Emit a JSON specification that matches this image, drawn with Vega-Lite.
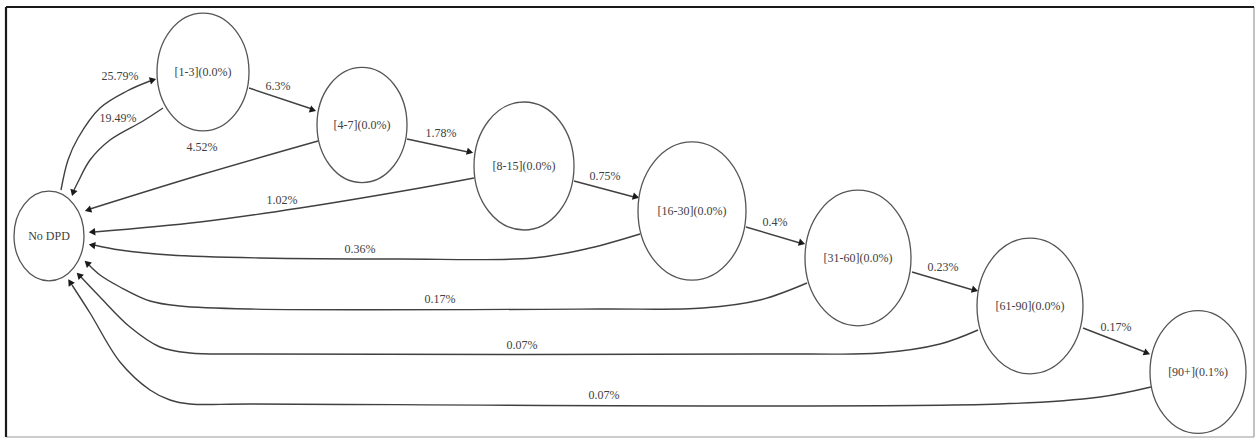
{
  "$schema": "https://vega.github.io/schema/vega-lite/v6.json",
  "width": 1255,
  "height": 439,
  "padding": 0,
  "autosize": {"type": "none"},
  "background": "white",
  "view": {"stroke": null},
  "config": {"axis": {"disable": true}},
  "datasets": {
    "nodes": [
      {"label": "No DPD", "x": 49, "y": 236, "rx": 35},
      {"label": "[1-3](0.0%)", "x": 203, "y": 72, "rx": 46},
      {"label": "[4-7](0.0%)", "x": 362, "y": 125, "rx": 45},
      {"label": "[8-15](0.0%)", "x": 524, "y": 166, "rx": 50},
      {"label": "[16-30](0.0%)", "x": 692, "y": 211, "rx": 54},
      {"label": "[31-60](0.0%)", "x": 858, "y": 258, "rx": 53},
      {"label": "[61-90](0.0%)", "x": 1030, "y": 306, "rx": 53},
      {"label": "[90+](0.1%)", "x": 1198, "y": 372, "rx": 48}
    ],
    "edges": [
      {"edge": "e1", "i": 0, "x": 61, "y": 190}, {"edge": "e1", "i": 1, "x": 68, "y": 160}, {"edge": "e1", "i": 2, "x": 78, "y": 138}, {"edge": "e1", "i": 3, "x": 100, "y": 108}, {"edge": "e1", "i": 4, "x": 127, "y": 91}, {"edge": "e1", "i": 5, "x": 150, "y": 81},
      {"edge": "e2", "i": 0, "x": 163, "y": 108}, {"edge": "e2", "i": 1, "x": 143, "y": 121}, {"edge": "e2", "i": 2, "x": 110, "y": 140}, {"edge": "e2", "i": 3, "x": 90, "y": 160}, {"edge": "e2", "i": 4, "x": 78, "y": 182}, {"edge": "e2", "i": 5, "x": 74, "y": 190},
      {"edge": "e3", "i": 0, "x": 249, "y": 88}, {"edge": "e3", "i": 1, "x": 312, "y": 109},
      {"edge": "e4", "i": 0, "x": 318, "y": 141}, {"edge": "e4", "i": 1, "x": 200, "y": 175}, {"edge": "e4", "i": 2, "x": 90, "y": 209},
      {"edge": "e5", "i": 0, "x": 407, "y": 139}, {"edge": "e5", "i": 1, "x": 468, "y": 152},
      {"edge": "e6", "i": 0, "x": 474, "y": 178}, {"edge": "e6", "i": 1, "x": 420, "y": 188}, {"edge": "e6", "i": 2, "x": 300, "y": 208}, {"edge": "e6", "i": 3, "x": 200, "y": 222}, {"edge": "e6", "i": 4, "x": 94, "y": 232},
      {"edge": "e7", "i": 0, "x": 574, "y": 181}, {"edge": "e7", "i": 1, "x": 634, "y": 197},
      {"edge": "e8", "i": 0, "x": 640, "y": 234}, {"edge": "e8", "i": 1, "x": 590, "y": 248}, {"edge": "e8", "i": 2, "x": 533, "y": 258}, {"edge": "e8", "i": 3, "x": 400, "y": 259}, {"edge": "e8", "i": 4, "x": 260, "y": 258}, {"edge": "e8", "i": 5, "x": 170, "y": 255}, {"edge": "e8", "i": 6, "x": 120, "y": 250}, {"edge": "e8", "i": 7, "x": 94, "y": 245},
      {"edge": "e9", "i": 0, "x": 746, "y": 227}, {"edge": "e9", "i": 1, "x": 800, "y": 243},
      {"edge": "e10", "i": 0, "x": 807, "y": 283}, {"edge": "e10", "i": 1, "x": 760, "y": 300}, {"edge": "e10", "i": 2, "x": 703, "y": 308}, {"edge": "e10", "i": 3, "x": 600, "y": 309}, {"edge": "e10", "i": 4, "x": 250, "y": 309}, {"edge": "e10", "i": 5, "x": 180, "y": 306}, {"edge": "e10", "i": 6, "x": 150, "y": 301}, {"edge": "e10", "i": 7, "x": 120, "y": 287}, {"edge": "e10", "i": 8, "x": 100, "y": 275}, {"edge": "e10", "i": 9, "x": 89, "y": 265},
      {"edge": "e11", "i": 0, "x": 912, "y": 272}, {"edge": "e11", "i": 1, "x": 973, "y": 290},
      {"edge": "e12", "i": 0, "x": 978, "y": 330}, {"edge": "e12", "i": 1, "x": 940, "y": 344}, {"edge": "e12", "i": 2, "x": 880, "y": 353}, {"edge": "e12", "i": 3, "x": 800, "y": 354}, {"edge": "e12", "i": 4, "x": 250, "y": 354}, {"edge": "e12", "i": 5, "x": 190, "y": 353}, {"edge": "e12", "i": 6, "x": 160, "y": 347}, {"edge": "e12", "i": 7, "x": 130, "y": 327}, {"edge": "e12", "i": 8, "x": 100, "y": 297}, {"edge": "e12", "i": 9, "x": 81, "y": 277},
      {"edge": "e13", "i": 0, "x": 1083, "y": 328}, {"edge": "e13", "i": 1, "x": 1145, "y": 352},
      {"edge": "e14", "i": 0, "x": 1151, "y": 387}, {"edge": "e14", "i": 1, "x": 1100, "y": 397}, {"edge": "e14", "i": 2, "x": 1000, "y": 404}, {"edge": "e14", "i": 3, "x": 250, "y": 404}, {"edge": "e14", "i": 4, "x": 190, "y": 404}, {"edge": "e14", "i": 5, "x": 170, "y": 400}, {"edge": "e14", "i": 6, "x": 150, "y": 390}, {"edge": "e14", "i": 7, "x": 120, "y": 362}, {"edge": "e14", "i": 8, "x": 90, "y": 313}, {"edge": "e14", "i": 9, "x": 72, "y": 285}
    ],
    "arrows": [
      {"edge": "e1", "x": 153, "y": 80, "dir": -16},
      {"edge": "e2", "x": 73, "y": 193, "dir": 107},
      {"edge": "e3", "x": 313, "y": 110, "dir": 18},
      {"edge": "e4", "x": 88, "y": 210, "dir": 163},
      {"edge": "e5", "x": 470, "y": 152, "dir": 14},
      {"edge": "e6", "x": 92, "y": 232, "dir": 175},
      {"edge": "e7", "x": 636, "y": 197, "dir": 15},
      {"edge": "e8", "x": 92, "y": 245, "dir": 190},
      {"edge": "e9", "x": 802, "y": 243, "dir": 16},
      {"edge": "e10", "x": 87, "y": 263, "dir": 222},
      {"edge": "e11", "x": 975, "y": 290, "dir": 16},
      {"edge": "e12", "x": 79, "y": 275, "dir": 226},
      {"edge": "e13", "x": 1147, "y": 353, "dir": 21},
      {"edge": "e14", "x": 70, "y": 282, "dir": 237}
    ],
    "edgeLabels": [
      {"text": "25.79%", "x": 120, "y": 76},
      {"text": "19.49%", "x": 118, "y": 118},
      {"text": "6.3%", "x": 278, "y": 86},
      {"text": "4.52%", "x": 202, "y": 147},
      {"text": "1.78%", "x": 441, "y": 133},
      {"text": "1.02%", "x": 282, "y": 200},
      {"text": "0.75%", "x": 605, "y": 176},
      {"text": "0.36%", "x": 360, "y": 249},
      {"text": "0.4%", "x": 775, "y": 222},
      {"text": "0.17%", "x": 440, "y": 299},
      {"text": "0.23%", "x": 943, "y": 267},
      {"text": "0.07%", "x": 522, "y": 345},
      {"text": "0.17%", "x": 1116, "y": 327},
      {"text": "0.07%", "x": 604, "y": 395}
    ],
    "frameDark": [
      {"x": 6, "y": 7, "x2": 1254, "y2": 7},
      {"x": 6, "y": 7, "x2": 6, "y2": 437}
    ],
    "frameLight": [
      {"x": 1254, "y": 7, "x2": 1254, "y2": 437},
      {"x": 6, "y": 437, "x2": 1254, "y2": 437}
    ]
  },
  "encoding": {
    "x": {"field": "x", "type": "quantitative", "scale": {"domain": [0, 1255], "nice": false, "zero": false}, "axis": null},
    "y": {"field": "y", "type": "quantitative", "scale": {"domain": [0, 439], "nice": false, "zero": false, "reverse": true}, "axis": null}
  },
  "layer": [
    {
      "data": {"name": "frameLight"},
      "mark": {"type": "rule", "color": "#9a9a9a", "strokeWidth": 1.2},
      "encoding": {"x2": {"field": "x2"}, "y2": {"field": "y2"}}
    },
    {
      "data": {"name": "frameDark"},
      "mark": {"type": "rule", "color": "#1a1a1a", "strokeWidth": 2.2},
      "encoding": {"x2": {"field": "x2"}, "y2": {"field": "y2"}}
    },
    {
      "data": {"name": "edges"},
      "mark": {"type": "line", "interpolate": "catmull-rom", "color": "#404040", "strokeWidth": 1.4},
      "encoding": {
        "detail": {"field": "edge", "type": "nominal"},
        "order": {"field": "i", "type": "quantitative"}
      }
    },
    {
      "data": {"name": "arrows"},
      "mark": {"type": "point", "shape": "triangle-right", "filled": true, "color": "#1a1a1a", "size": 55, "opacity": 1},
      "encoding": {
        "angle": {"field": "dir", "type": "quantitative", "scale": null}
      }
    },
    {
      "data": {"name": "nodes"},
      "mark": {"type": "point", "shape": "M-1,0A1,1.28,0,1,1,1,0A1,1.28,0,1,1,-1,0Z", "filled": false, "fill": "white", "fillOpacity": 1, "stroke": "#555555", "strokeWidth": 1.3, "opacity": 1},
      "encoding": {
        "size": {"field": "rx", "type": "quantitative", "scale": {"type": "pow", "exponent": 2, "domain": [0, 60], "range": [0, 14400]}, "legend": null}
      }
    },
    {
      "data": {"name": "nodes"},
      "mark": {"type": "text", "font": "'Liberation Serif', 'DejaVu Serif', serif", "fontSize": 12, "color": "#404040"},
      "encoding": {"text": {"field": "label"}}
    },
    {
      "data": {"name": "edgeLabels"},
      "mark": {"type": "text", "font": "'Liberation Serif', 'DejaVu Serif', serif", "fontSize": 12, "color": "#404040"},
      "encoding": {"text": {"field": "text"}}
    }
  ]
}
